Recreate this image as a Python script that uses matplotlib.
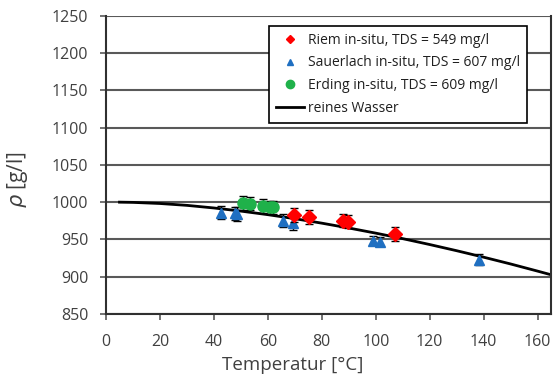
import matplotlib
matplotlib.use("Agg")
import matplotlib.pyplot as plt
from matplotlib.lines import Line2D

plt.rcParams['font.family'] = ['Open Sans', 'DejaVu Sans']

# Riem in-situ
riem_T = [69.7, 75.3, 87.9, 89.7, 107.3]
riem_rho = [983, 980, 975, 974, 957]
riem_err = [9, 9, 9, 9, 9]

# Sauerlach in-situ
sauer_T = [42.8, 47.8, 48.6, 65.7, 69.4, 99.0, 101.5, 138.1]
sauer_rho = [986, 985, 984, 975, 972, 948, 947, 923]
sauer_err = [9, 9, 9, 9, 9, 6, 6, 8]

# Erding in-situ
erding_T = [50.8, 53.3, 58.3, 60.7, 62.0]
erding_rho = [999, 998, 995, 993, 993]
erding_err = [9, 9, 9, 9, 9]

# reines Wasser
water_T = [5, 10, 20, 30, 40, 50, 60, 70, 80, 90, 100, 110, 120, 130, 140, 150, 160, 165]
water_rho = [1000.0, 999.7, 998.2, 995.7, 992.2, 988.0, 983.2, 977.8, 971.8, 965.3,
             958.4, 951.0, 943.1, 934.8, 926.1, 917.0, 907.4, 902.5]

labels = ["Riem in-situ, TDS = 549 mg/l", "Sauerlach in-situ, TDS = 607 mg/l",
          "Erding in-situ, TDS = 609 mg/l", "reines Wasser"]

xticks = list(range(0, 161, 20))
yticks = list(range(850, 1251, 50))

fig = plt.figure(figsize=(5.55, 3.8), dpi=100)
ax = fig.add_axes([0.191, 0.174, 0.802, 0.784])

grid_c = '#595959'
txt_c = '#404040'
for y in yticks:
    ax.axhline(y, color=grid_c, lw=1.5, zorder=0)

ax.plot(water_T, water_rho, color='black', lw=2, zorder=2)

ax.errorbar(sauer_T, sauer_rho, yerr=sauer_err, fmt='^', color='#1f6fc1', ms=7,
            ecolor='black', elinewidth=1, capsize=3, capthick=1, zorder=3)
ax.errorbar(erding_T, erding_rho, yerr=erding_err, fmt='o', color='#1fb14a', ms=8,
            ecolor='black', elinewidth=1, capsize=3, capthick=1, zorder=3)
ax.errorbar(riem_T, riem_rho, yerr=riem_err, fmt='D', color='#ff0000', ms=7,
            ecolor='black', elinewidth=1, capsize=3, capthick=1, zorder=4)

ax.set_xlim(0, 165)
ax.set_ylim(850, 1250)
ax.set_xticks(xticks)
ax.set_yticks(yticks)
ax.tick_params(direction='out', length=4.3, width=1.2, color=grid_c, labelcolor=txt_c,
               labelsize=11.5)
ax.tick_params(axis='y', pad=8.5)
ax.tick_params(axis='x', pad=10)
for s in ['left', 'bottom', 'right']:
    ax.spines[s].set_color('#303030')
    ax.spines[s].set_linewidth(1.5)
ax.spines['top'].set_visible(False)

ax.set_xlabel("Temperatur [°C]", fontsize=13.5, color=txt_c)
ax.xaxis.set_label_coords(0.419, -0.142)
ax.set_ylabel(r"$\rho$ [g/l]", fontsize=15, color=txt_c)
ax.yaxis.set_label_coords(-0.171, 0.45)

handles = [
    Line2D([], [], marker='D', color='#ff0000', ls='none', ms=4),
    Line2D([], [], marker='^', color='#1f6fc1', ls='none', ms=5),
    Line2D([], [], marker='o', color='#1fb14a', ls='none', ms=6),
    Line2D([], [], color='black', lw=2),
]
leg = ax.legend(handles, labels, loc='upper left', bbox_to_anchor=(0.3515, 0.99),
                fontsize=10, frameon=True, fancybox=False, framealpha=1,
                edgecolor='black', handlelength=2, borderpad=0.5, labelspacing=0.55,
                handletextpad=0.3)
leg.get_frame().set_linewidth(1.2)
for t in leg.get_texts():
    t.set_color('#202020')

fig.savefig("out.png", dpi=100)
